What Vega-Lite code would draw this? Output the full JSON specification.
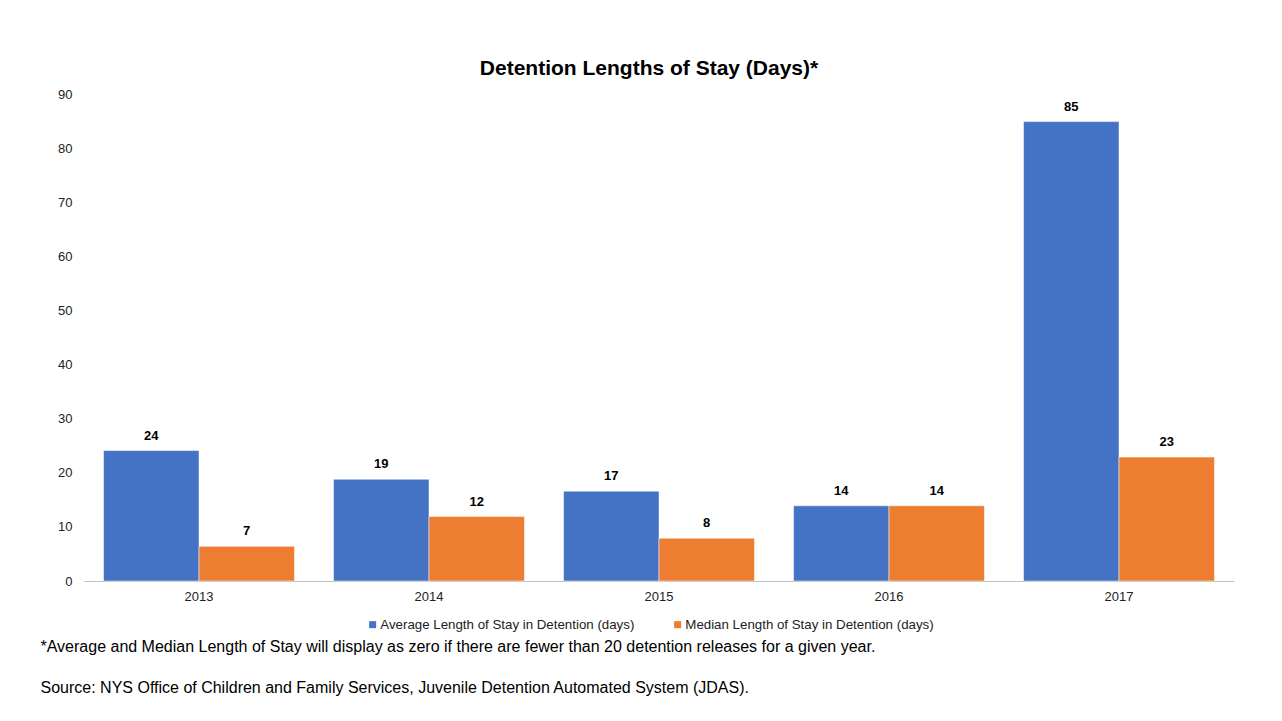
{
  "$schema": "https://vega.github.io/schema/vega-lite/v6.json",
  "autosize": {"type": "none"},
  "padding": {"left": 84, "top": 94, "right": 48, "bottom": 140},
  "width": 1150,
  "height": 487,
  "background": "white",
  "title": {
    "text": "Detention Lengths of Stay (Days)*",
    "font": "Liberation Sans",
    "fontSize": 21,
    "fontWeight": "bold",
    "color": "#000000",
    "anchor": "middle",
    "dx": -10,
    "offset": 9
  },
  "data": {
    "values": [
      {"year": "2013", "series": "Average Length of Stay in Detention (days)", "value": 24.1, "label": "24"},
      {"year": "2013", "series": "Median Length of Stay in Detention (days)", "value": 6.4, "label": "7"},
      {"year": "2014", "series": "Average Length of Stay in Detention (days)", "value": 18.8, "label": "19"},
      {"year": "2014", "series": "Median Length of Stay in Detention (days)", "value": 11.9, "label": "12"},
      {"year": "2015", "series": "Average Length of Stay in Detention (days)", "value": 16.6, "label": "17"},
      {"year": "2015", "series": "Median Length of Stay in Detention (days)", "value": 7.9, "label": "8"},
      {"year": "2016", "series": "Average Length of Stay in Detention (days)", "value": 13.9, "label": "14"},
      {"year": "2016", "series": "Median Length of Stay in Detention (days)", "value": 13.9, "label": "14"},
      {"year": "2017", "series": "Average Length of Stay in Detention (days)", "value": 84.9, "label": "85"},
      {"year": "2017", "series": "Median Length of Stay in Detention (days)", "value": 22.9, "label": "23"}
    ]
  },
  "encoding": {
    "x": {
      "field": "year",
      "type": "nominal",
      "scale": {"paddingInner": 0.17, "paddingOuter": 0.085},
      "axis": {
        "labelAngle": 0,
        "labelFont": "Liberation Sans",
        "labelFontSize": 13,
        "labelColor": "#222222",
        "labelPadding": 9,
        "ticks": false,
        "domainColor": "#BFBFBF",
        "domainWidth": 1,
        "title": ["*Average and Median Length of Stay will display as zero if there are fewer than 20 detention releases for a given year.", "Source: NYS Office of Children and Family Services, Juvenile Detention Automated System (JDAS)."],
        "titleFont": "Liberation Sans",
        "titleFontSize": 16,
        "titleFontWeight": "normal",
        "titleColor": "#000000",
        "titleLineHeight": 41,
        "titleAnchor": "start",
        "titleAlign": "left",
        "titleBaseline": "top",
        "titleX": -44,
        "titleY": 57
      }
    },
    "xOffset": {"field": "series", "type": "nominal", "scale": {"paddingInner": 0, "paddingOuter": 0}},
    "y": {
      "field": "value",
      "type": "quantitative",
      "scale": {"domain": [0, 90], "nice": false},
      "axis": {
        "values": [0, 10, 20, 30, 40, 50, 60, 70, 80, 90],
        "domain": false,
        "ticks": false,
        "grid": false,
        "labelFont": "Liberation Sans",
        "labelFontSize": 13,
        "labelColor": "#222222",
        "labelPadding": 12,
        "title": null
      }
    }
  },
  "layer": [
    {
      "mark": {"type": "bar", "stroke": "white", "strokeWidth": 0.5},
      "encoding": {
        "color": {
          "field": "series",
          "type": "nominal",
          "scale": {
            "domain": ["Average Length of Stay in Detention (days)", "Median Length of Stay in Detention (days)"],
            "range": ["#4472C4", "#ED7D31"]
          },
          "legend": {
            "title": null,
            "orient": "none",
            "direction": "horizontal",
            "legendX": 282,
            "legendY": 524,
            "symbolType": "square",
            "symbolSize": 49,
            "symbolStrokeWidth": 0,
            "labelFont": "Liberation Sans",
            "labelFontSize": 13.3,
            "labelColor": "#222222",
            "labelOffset": 1,
            "labelLimit": 0,
            "columnPadding": 36
          }
        }
      }
    },
    {
      "mark": {"type": "text", "dy": -8, "baseline": "bottom", "font": "Liberation Sans", "fontSize": 13, "fontWeight": "bold", "color": "#000000"},
      "encoding": {"text": {"field": "label", "type": "nominal"}}
    }
  ],
  "config": {"view": {"stroke": null}}
}
